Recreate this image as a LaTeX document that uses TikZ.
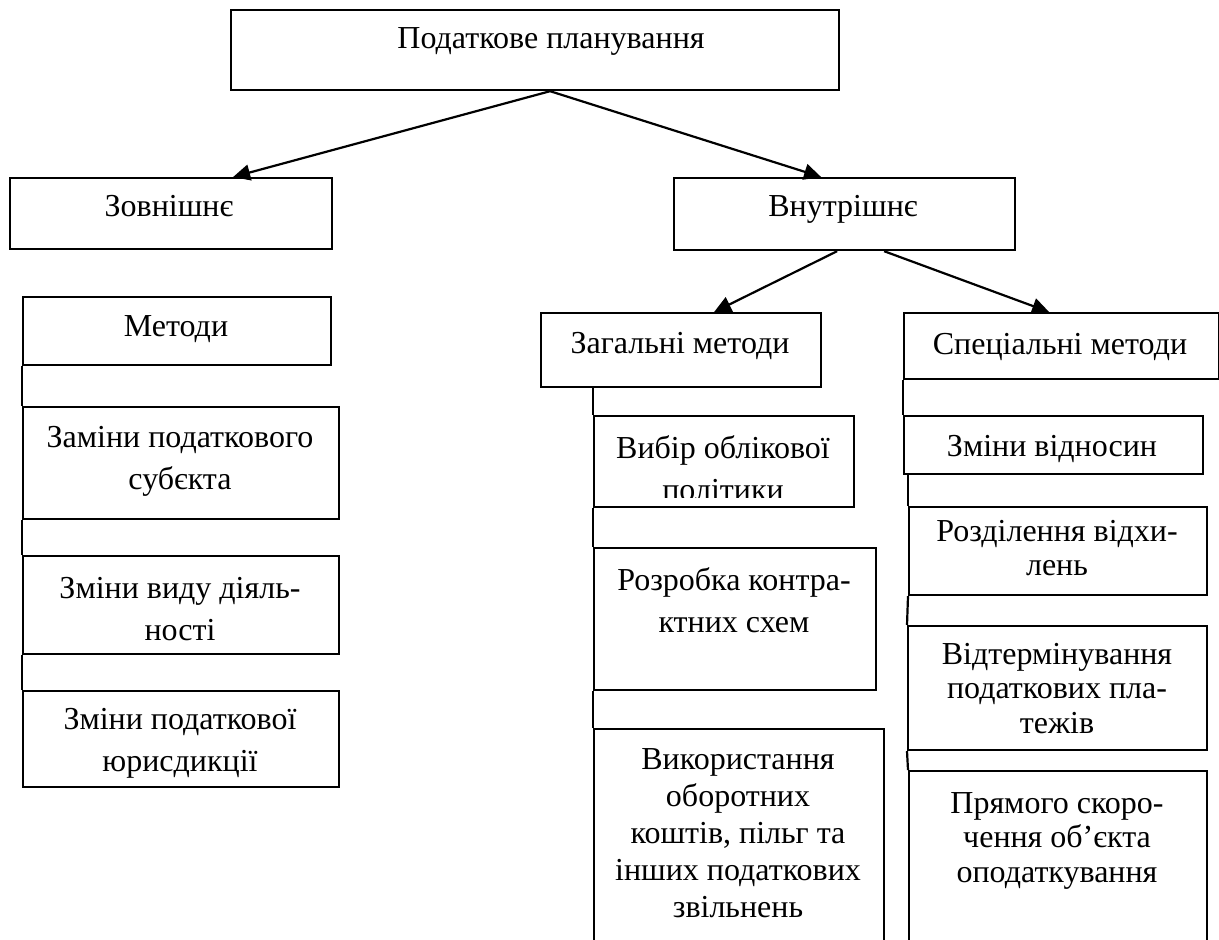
\documentclass[tikz,border=0pt]{standalone}
\usepackage{fontspec}
\setmainfont{Liberation Serif}
\usetikzlibrary{arrows.meta}

\begin{document}
\begin{tikzpicture}[x=0.5pt, y=-0.5pt,
    box/.style={draw, line width=1.1pt, anchor=north west, inner sep=0pt},
    txt/.style={anchor=north, align=center, inner sep=0pt, font=\fontsize{16}{21}\selectfont},
    txtr/.style={txt, font=\fontsize{16}{17.2}\selectfont},
    arr/.style={line width=1.1pt, -{Triangle[length=8.5pt, width=8pt]}},
    link/.style={line width=1.1pt}]
    \clip (0,0) rectangle (1219,940);
    \node[box, minimum width=304pt, minimum height=40pt] (top) at (230,9) {};
    \node[box, minimum width=161pt, minimum height=35.5pt] (ext) at (9,177) {};
    \node[box, minimum width=170.5pt, minimum height=36pt] (int) at (673,177) {};
    \node[box, minimum width=154pt, minimum height=34pt] (meth) at (22,296) {};
    \node[box, minimum width=158pt, minimum height=56pt] (e1) at (22,406) {};
    \node[box, minimum width=158pt, minimum height=49pt] (e2) at (22,555) {};
    \node[box, minimum width=158pt, minimum height=48pt] (e3) at (22,690) {};
    \node[box, minimum width=140pt, minimum height=37pt] (gen) at (540,312) {};
    \node[box, minimum width=130pt, minimum height=45.5pt] (g1) at (593,415) {};
    \node[box, minimum width=141pt, minimum height=71pt] (g2) at (593,547) {};
    \node[box, minimum width=145pt, minimum height=130pt] (g3) at (593,728) {};
    \node[box, minimum width=157.5pt, minimum height=33pt] (spec) at (903,312) {};
    \node[box, minimum width=149.5pt, minimum height=29pt] (s1) at (903,415) {};
    \node[box, minimum width=149pt, minimum height=44pt] (s2) at (908,506) {};
    \node[box, minimum width=149.5pt, minimum height=62pt] (s3) at (907,625) {};
    \node[box, minimum width=149pt, minimum height=115pt] (s4) at (908,770) {};

    \node[txt] (topt) at (551,27) {Податкове планування};
    \node[txt] (extt) at (169,195) {Зовнішнє};
    \node[txt] (intt) at (843,195) {Внутрішнє};
    \node[txt] (metht) at (176,315) {Методи};
    \node[txt] (e1t) at (180,426) {Заміни податкового\\субєкта};
    \node[txt] (e2t) at (180,577) {Зміни виду діяль-\\ності};
    \node[txt] (e3t) at (180,708) {Зміни податкової\\юрисдикції};
    \node[txt] (gent) at (680,332) {Загальні методи};
    \begin{scope}
        \clip (g1.north west) rectangle (853,497);
        \node[txt] (g1t) at (723,435) {Вибір облікової\\політики};
    \end{scope}
    \node[txt] (g2t) at (734,567) {Розробка контра-\\ктних схем};
    \node[txt, font=\fontsize{16}{18.5}\selectfont] (g3t) at (738,748)
        {Використання\\оборотних\\коштів, пільг та\\інших податкових\\звільнень};
    \node[txt] (spect) at (1060,333) {Спеціальні методи};
    \node[txt] (s1t) at (1052,435) {Зміни відносин};
    \node[txtr] (s2t) at (1057,520) {Розділення відхи-\\лень};
    \node[txtr] (s3t) at (1057,643) {Відтермінування\\податкових пла-\\тежів};
    \node[txtr] (s4t) at (1057,792) {Прямого скоро-\\чення об’єкта\\оподаткування};

    \draw[arr] ([xshift=7.5pt]top.south) -- ([xshift=31pt]ext.north);
    \draw[arr] ([xshift=7.5pt]top.south) -- ([xshift=-11.75pt]int.north);
    \draw[arr] ([xshift=-3.75pt]int.south) -- ([xshift=16.5pt]gen.north);
    \draw[arr] ([xshift=19.75pt]int.south) -- ([xshift=-6.25pt]spec.north);
    \foreach \a/\b in {meth/e1, e1/e2, e2/e3, g1/g2, g2/g3, spec/s1, s2/s3, s3/s4}
        \draw[link] (\a.south west) -- (\b.north west);
    \draw[link] (g1.north west |- gen.south) -- (g1.north west);
    \draw[link] (s2.north west |- s1.south) -- (s2.north west);
\end{tikzpicture}
\end{document}
